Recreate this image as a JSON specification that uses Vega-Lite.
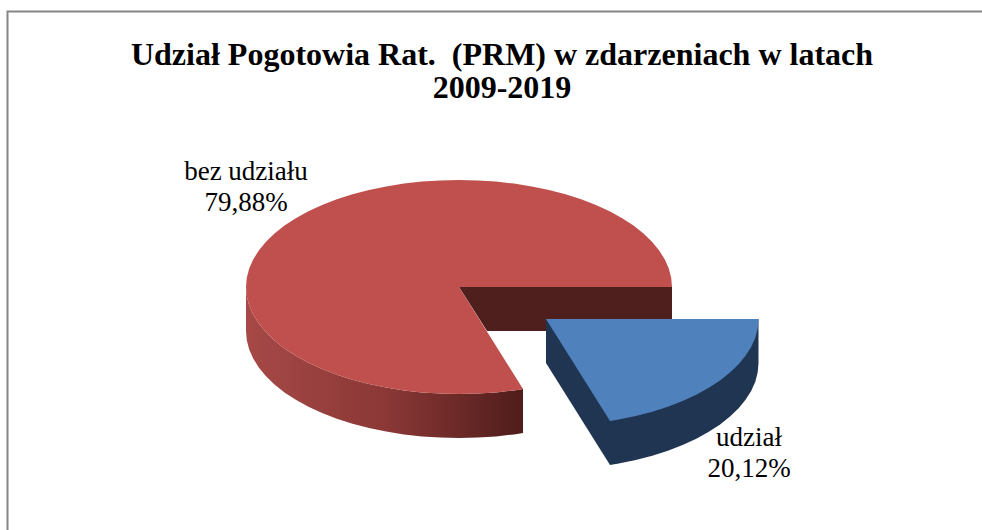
{"$schema":"https://vega.github.io/schema/vega-lite/v6.json","width":982,"height":530,"padding":0,"autosize":"none","background":"white","view":{"stroke":null},
"title":{"text":["Udział Pogotowia Rat.\u00a0 (PRM) w zdarzeniach w latach","2009-2019"],"font":"Liberation Serif","fontSize":32,"fontWeight":"bold","color":"#000000","anchor":"middle","frame":"group","dx":11,"dy":105,"lineHeight":33,"offset":0},
"datasets":{
"frame":[{"x":7.5,"y":530},{"x":7.5,"y":11.5},{"x":982,"y":11.5}],
"redSide":[{"x":246,"y":287},{"x":246.8,"y":296.3},{"x":249.2,"y":305.6},{"x":253.3,"y":314.7},{"x":258.8,"y":323.6},{"x":266,"y":332.2},{"x":274.5,"y":340.5},{"x":284.5,"y":348.4},{"x":295.8,"y":355.8},{"x":308.4,"y":362.7},{"x":322.1,"y":369},{"x":336.8,"y":374.7},{"x":352.5,"y":379.7},{"x":369,"y":384},{"x":386.2,"y":387.5},{"x":403.9,"y":390.4},{"x":422,"y":392.4},{"x":440.4,"y":393.6},{"x":459,"y":394},{"x":477.6,"y":393.6},{"x":496,"y":392.4},{"x":514.1,"y":390.4},{"x":523,"y":389},{"x":523,"y":433},{"x":514.1,"y":434.4},{"x":496,"y":436.4},{"x":477.6,"y":437.6},{"x":459,"y":438},{"x":440.4,"y":437.6},{"x":422,"y":436.4},{"x":403.9,"y":434.4},{"x":386.2,"y":431.5},{"x":369,"y":428},{"x":352.5,"y":423.7},{"x":336.8,"y":418.7},{"x":322.1,"y":413},{"x":308.4,"y":406.7},{"x":295.8,"y":399.8},{"x":284.5,"y":392.4},{"x":274.5,"y":384.5},{"x":266,"y":376.2},{"x":258.8,"y":367.6},{"x":253.3,"y":358.7},{"x":249.2,"y":349.6},{"x":246.8,"y":340.3},{"x":246,"y":331}],
"redInner":[{"x":459,"y":287},{"x":672,"y":287},{"x":672,"y":331},{"x":487,"y":331}],
"redTop":[{"x":459,"y":287},{"x":672,"y":287},{"x":671.2,"y":277.7},{"x":668.8,"y":268.4},{"x":664.7,"y":259.3},{"x":659.2,"y":250.4},{"x":652,"y":241.8},{"x":643.5,"y":233.5},{"x":633.5,"y":225.6},{"x":622.2,"y":218.2},{"x":609.6,"y":211.3},{"x":595.9,"y":205},{"x":581.2,"y":199.3},{"x":565.5,"y":194.3},{"x":549,"y":190},{"x":531.8,"y":186.5},{"x":514.1,"y":183.6},{"x":496,"y":181.6},{"x":477.6,"y":180.4},{"x":459,"y":180},{"x":440.4,"y":180.4},{"x":422,"y":181.6},{"x":403.9,"y":183.6},{"x":386.2,"y":186.5},{"x":369,"y":190},{"x":352.5,"y":194.3},{"x":336.8,"y":199.3},{"x":322.1,"y":205},{"x":308.4,"y":211.3},{"x":295.8,"y":218.2},{"x":284.5,"y":225.6},{"x":274.5,"y":233.5},{"x":266,"y":241.8},{"x":258.8,"y":250.4},{"x":253.3,"y":259.3},{"x":249.2,"y":268.4},{"x":246.8,"y":277.7},{"x":246,"y":287},{"x":246.8,"y":296.3},{"x":249.2,"y":305.6},{"x":253.3,"y":314.7},{"x":258.8,"y":323.6},{"x":266,"y":332.2},{"x":274.5,"y":340.5},{"x":284.5,"y":348.4},{"x":295.8,"y":355.8},{"x":308.4,"y":362.7},{"x":322.1,"y":369},{"x":336.8,"y":374.7},{"x":352.5,"y":379.7},{"x":369,"y":384},{"x":386.2,"y":387.5},{"x":403.9,"y":390.4},{"x":422,"y":392.4},{"x":440.4,"y":393.6},{"x":459,"y":394},{"x":477.6,"y":393.6},{"x":496,"y":392.4},{"x":514.1,"y":390.4},{"x":523,"y":389}],
"blueSide":[{"x":546,"y":319},{"x":546,"y":363},{"x":610,"y":465},{"x":618.7,"y":463.5},{"x":635.8,"y":460},{"x":652.3,"y":455.7},{"x":667.9,"y":450.7},{"x":682.6,"y":445},{"x":696.3,"y":438.7},{"x":708.8,"y":431.8},{"x":720.1,"y":424.4},{"x":730,"y":416.5},{"x":738.6,"y":408.2},{"x":745.7,"y":399.6},{"x":751.3,"y":390.7},{"x":755.4,"y":381.6},{"x":757.7,"y":372.3},{"x":758.5,"y":363},{"x":758.5,"y":319}],
"blueTop":[{"x":546,"y":319},{"x":758.5,"y":319},{"x":757.7,"y":328.3},{"x":755.4,"y":337.6},{"x":751.3,"y":346.7},{"x":745.7,"y":355.6},{"x":738.6,"y":364.2},{"x":730,"y":372.5},{"x":720.1,"y":380.4},{"x":708.8,"y":387.8},{"x":696.3,"y":394.7},{"x":682.6,"y":401},{"x":667.9,"y":406.7},{"x":652.3,"y":411.7},{"x":635.8,"y":416},{"x":618.7,"y":419.5},{"x":610,"y":421}],
"labels":[{"part":"bez udziału","share":79.88,"label":"bez udziału\n79,88%","x":246,"y":172},{"part":"udział","share":20.12,"label":"udział\n20,12%","x":749,"y":438}]
},
"encoding":{
"x":{"field":"x","type":"quantitative","scale":{"domain":[0,982],"nice":false,"zero":false},"axis":null},
"y":{"field":"y","type":"quantitative","scale":{"domain":[530,0],"nice":false,"zero":false},"axis":null}
},
"layer":[
{"data":{"name":"frame"},"mark":{"type":"line","color":"#868686","strokeWidth":2},"encoding":{"order":{"value":null}}},
{"data":{"name":"redSide"},"mark":{"type":"line","stroke":null,"strokeWidth":0,"fill":{"gradient":"linear","x1":0,"x2":1,"y1":0,"y2":0,"stops":[{"offset":0,"color":"#a64947"},{"offset":0.5,"color":"#8b3836"},{"offset":1,"color":"#4f1d1b"}]}},"encoding":{"order":{"value":null}}},
{"data":{"name":"redInner"},"mark":{"type":"line","stroke":null,"strokeWidth":0,"fill":"#4f1f1d"},"encoding":{"order":{"value":null}}},
{"data":{"name":"redTop"},"mark":{"type":"line","stroke":null,"strokeWidth":0,"fill":"#c0504d"},"encoding":{"order":{"value":null}}},
{"data":{"name":"blueSide"},"mark":{"type":"line","stroke":null,"strokeWidth":0,"fill":"#1f3552"},"encoding":{"order":{"value":null}}},
{"data":{"name":"blueTop"},"mark":{"type":"line","stroke":null,"strokeWidth":0,"fill":"#4f81bd"},"encoding":{"order":{"value":null}}},
{"data":{"name":"labels"},"mark":{"type":"text","font":"Liberation Serif","fontSize":27,"color":"#000000","align":"center","baseline":"middle","lineBreak":"\n","lineHeight":31},"encoding":{"text":{"field":"label"}}}
]}
